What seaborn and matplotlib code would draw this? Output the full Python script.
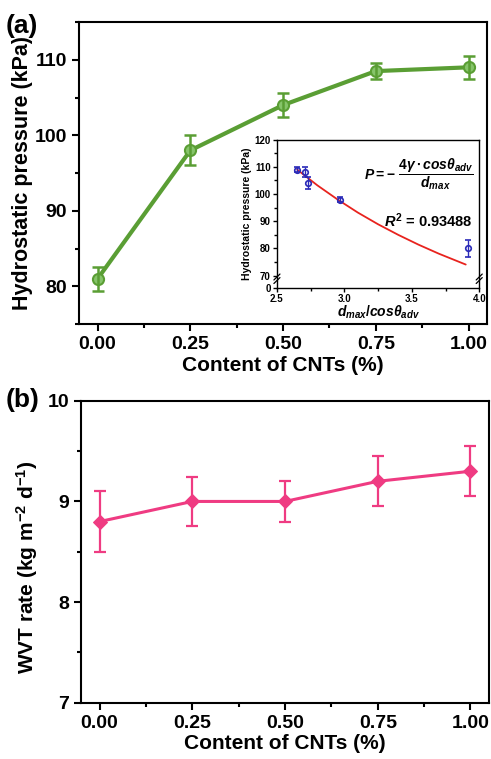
import numpy as np
import pandas as pd
import matplotlib
matplotlib.use("Agg")
import matplotlib.pyplot as plt
import seaborn as sns

# datos panel (a): presion hidrostatica
cnt = [0.00, 0.25, 0.50, 0.75, 1.00]
pressure = [81.0, 98.0, 104.0, 108.5, 109.0]
pressure_err = [1.6, 2.0, 1.6, 1.1, 1.5]

# datos del recuadro
d_cos = [2.65, 2.71, 2.73, 2.97, 3.92]
p_inset = [109.0, 108.0, 104.0, 98.0, 80.0]
p_inset_err = [1.0, 1.8, 2.2, 1.0, 3.0]
fit_x = [2.65, 2.8, 2.95, 3.1, 3.25, 3.4, 3.55, 3.7, 3.9]
fit_y = [109.0, 103.2, 98.0, 93.2, 88.9, 85.0, 81.4, 78.1, 74.1]

# datos panel (b): WVT
wvt = [8.8, 9.0, 9.0, 9.2, 9.3]
wvt_err = [0.3, 0.24, 0.2, 0.25, 0.25]

sns.set_style("ticks")
plt.rcParams['font.family'] = ['Liberation Sans', 'DejaVu Sans']
plt.rcParams['font.weight'] = 'bold'
plt.rcParams['mathtext.fontset'] = 'custom'
plt.rcParams['mathtext.rm'] = 'Liberation Sans:bold'
plt.rcParams['mathtext.it'] = 'Liberation Sans:bold:italic'
plt.rcParams['mathtext.bf'] = 'Liberation Sans:bold'
for k in ['text.color', 'axes.labelcolor', 'xtick.color', 'ytick.color', 'axes.edgecolor']:
    plt.rcParams[k] = 'black'

green = '#5a9e34'
pink = '#ef3b82'
blue = '#2a2ab8'

fig = plt.figure(figsize=(4.91, 7.59), dpi=100)
ax1 = fig.add_axes([0.161, 0.573, 0.831, 0.398])
ax2 = fig.add_axes([0.165, 0.074, 0.831, 0.398])
axi = fig.add_axes([0.564, 0.621, 0.412, 0.195])


def style_axis(ax, lw=1.5, fs=10, major=5, minor=3, pad=3.5):
    for s in ax.spines.values():
        s.set_linewidth(lw)
        s.set_color('black')
    ax.tick_params(which='major', direction='out', length=major, width=lw,
                   labelsize=fs, top=False, right=False, colors='black', pad=pad)
    ax.tick_params(which='minor', direction='out', length=minor, width=lw,
                   top=False, right=False, colors='black')
    for t in ax.get_xticklabels() + ax.get_yticklabels():
        t.set_fontweight('bold')


# panel (a)
df_a = pd.DataFrame({'cnt': cnt, 'p': pressure})
sns.lineplot(data=df_a, x='cnt', y='p', ax=ax1, color=green, lw=3,
             marker='o', markersize=8, markerfacecolor='#86c46a',
             markeredgecolor=green, markeredgewidth=1.5)
ax1.errorbar(cnt, pressure, yerr=pressure_err, fmt='none', ecolor=green,
             elinewidth=1.8, capsize=4, capthick=1.8)
ax1.set_xlim(-0.05, 1.05)
ax1.set_ylim(75, 115)
ax1.set_xticks(cnt)
ax1.set_xticks([0.125, 0.375, 0.625, 0.875], minor=True)
ax1.set_yticks([80, 90, 100, 110])
ax1.set_yticks([75, 85, 95, 105, 115], minor=True)
ax1.set_xticklabels(['0.00', '0.25', '0.50', '0.75', '1.00'])
ax1.set_xlabel('Content of CNTs (%)', fontsize=15, fontweight='bold', labelpad=2)
ax1.set_ylabel('Hydrostatic pressure (kPa)', fontsize=15.5, fontweight='bold')
ax1.yaxis.set_label_coords(-0.113, 0.5)
style_axis(ax1, fs=14)
fig.text(0.012, 0.966, '(a)', fontsize=19, fontweight='bold', va='center')

# recuadro
fit_df = pd.DataFrame({'x': fit_x, 'y': fit_y})
sns.lineplot(data=fit_df, x='x', y='y', ax=axi, color='#e8231e', lw=1.3)
axi.errorbar(d_cos, p_inset, yerr=p_inset_err, fmt='o', color=blue,
             markersize=4, markerfacecolor='none', markeredgewidth=1.2,
             elinewidth=1, capsize=2)
axi.set_xlim(2.5, 4.0)
axi.set_ylim(65.6, 120)
axi.set_xticks([2.5, 3.0, 3.5, 4.0])
axi.set_xticks([2.75, 3.25, 3.75], minor=True)
axi.set_yticks([65.6, 70, 80, 90, 100, 110, 120])
axi.set_yticks([75, 85, 95, 105, 115], minor=True)
axi.set_yticklabels(['0', '70', '80', '90', '100', '110', '120'])
axi.set_xticklabels(['2.5', '3.0', '3.5', '4.0'])
axi.set_xlabel(r'$d_{max}/cos\theta_{adv}$', fontsize=10, labelpad=0)
axi.set_ylabel('Hydrostatic pressure (kPa)', fontsize=7.5, fontweight='bold', labelpad=2)
style_axis(axi, lw=1.0, fs=7, major=3, minor=2, pad=1.5)
# marcas de corte del eje
for xb in (0.0, 1.0):
    for dy in (-0.012, 0.012):
        axi.plot([xb - 0.015, xb + 0.015], [0.06 + dy - 0.02, 0.06 + dy + 0.02],
                 transform=axi.transAxes, color='black', lw=0.9, clip_on=False)
axi.text(0.97, 0.77, r'$P = -\ \dfrac{4\gamma\bullet cos\theta_{adv}}{d_{max}}$',
         transform=axi.transAxes, fontsize=10, ha='right', va='center')
axi.text(0.97, 0.45, r'$R^2$ = 0.93488', transform=axi.transAxes,
         fontsize=10.5, fontweight='bold', ha='right', va='center')

# panel (b)
df_b = pd.DataFrame({'cnt': cnt, 'wvt': wvt})
sns.lineplot(data=df_b, x='cnt', y='wvt', ax=ax2, color=pink, lw=2.2,
             marker='D', markersize=7, markeredgecolor=pink)
ax2.errorbar(cnt, wvt, yerr=wvt_err, fmt='none', ecolor=pink,
             elinewidth=1.6, capsize=4, capthick=1.6)
ax2.set_xlim(-0.05, 1.05)
ax2.set_ylim(7, 10)
ax2.set_xticks(cnt)
ax2.set_xticks([0.125, 0.375, 0.625, 0.875], minor=True)
ax2.set_yticks([7, 8, 9, 10])
ax2.set_yticks([7.5, 8.5, 9.5], minor=True)
ax2.set_xticklabels(['0.00', '0.25', '0.50', '0.75', '1.00'])
ax2.set_xlabel('Content of CNTs (%)', fontsize=15, fontweight='bold', labelpad=2)
ax2.set_ylabel(r'WVT rate (kg m$^{-2}$ d$^{-1}$)', fontsize=15, fontweight='bold')
ax2.yaxis.set_label_coords(-0.1, 0.45)
style_axis(ax2, fs=14)
fig.text(0.012, 0.473, '(b)', fontsize=19, fontweight='bold', va='center')

fig.savefig('out.png', dpi=100)
